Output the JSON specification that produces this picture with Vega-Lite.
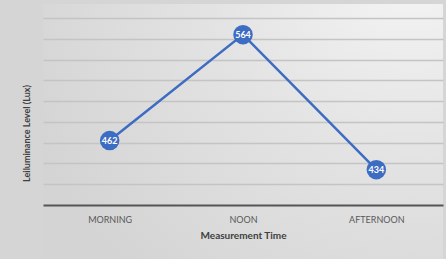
{
  "$schema": "https://vega.github.io/schema/vega-lite/v6.json",
  "width": 400,
  "height": 255,
  "autosize": {"type": "none"},
  "padding": {"left": 43, "top": 4, "right": 3, "bottom": 0},
  "background": "#d5d5d5",
  "view": {
    "stroke": null,
    "fill": {
      "gradient": "radial",
      "x1": 0.92, "y1": 0.05, "r1": 0,
      "x2": 0.92, "y2": 0.05, "r2": 1.05,
      "stops": [
        {"offset": 0, "color": "#f6f6f6"},
        {"offset": 0.5, "color": "#e3e3e3"},
        {"offset": 1, "color": "#d4d4d4"}
      ]
    }
  },
  "config": {
    "font": "Lato",
    "axis": {"labelFont": "Lato", "titleFont": "Lato"}
  },
  "data": {
    "values": [
      {"time": "MORNING", "lux": 462},
      {"time": "NOON", "lux": 564},
      {"time": "AFTERNOON", "lux": 434}
    ]
  },
  "encoding": {
    "x": {
      "field": "time",
      "type": "ordinal",
      "sort": null,
      "scale": {"type": "point", "padding": 0.5},
      "axis": {
        "title": "Measurement Time",
        "titleFontSize": 10,
        "titleFontWeight": "bold",
        "titleColor": "#404040",
        "titlePadding": 6,
        "labelAngle": 0,
        "labelFontSize": 9,
        "labelColor": "#595959",
        "labelPadding": 10,
        "ticks": false,
        "domain": true,
        "domainColor": "#555555",
        "domainWidth": 2,
        "grid": false,
        "offset": -54
      }
    },
    "y": {
      "field": "lux",
      "type": "quantitative",
      "scale": {"domain": [348, 593.5], "nice": false, "zero": false},
      "axis": {
        "title": "Leiluminance Level (Lux)",
        "titleFontSize": 9,
        "titleFontWeight": "bold",
        "titleColor": "#404040",
        "titleAngle": -90,
        "titleX": -17,
        "titleY": 129,
        "titleBaseline": "middle",
        "titleAlign": "center",
        "values": [420, 440, 460, 480, 500, 520, 540, 560, 580],
        "labels": false,
        "ticks": false,
        "domain": false,
        "grid": true,
        "gridColor": "#c4c4c4",
        "gridWidth": 1.5
      }
    }
  },
  "layer": [
    {"mark": {"type": "line", "color": "#3d6cc3", "strokeWidth": 2.5}},
    {"mark": {"type": "point", "filled": true, "color": "#3d6cc3", "size": 380, "opacity": 1}},
    {
      "mark": {"type": "text", "color": "white", "fontSize": 9, "fontWeight": "bold", "baseline": "middle", "align": "center"},
      "encoding": {"text": {"field": "lux", "type": "quantitative"}}
    }
  ]
}
